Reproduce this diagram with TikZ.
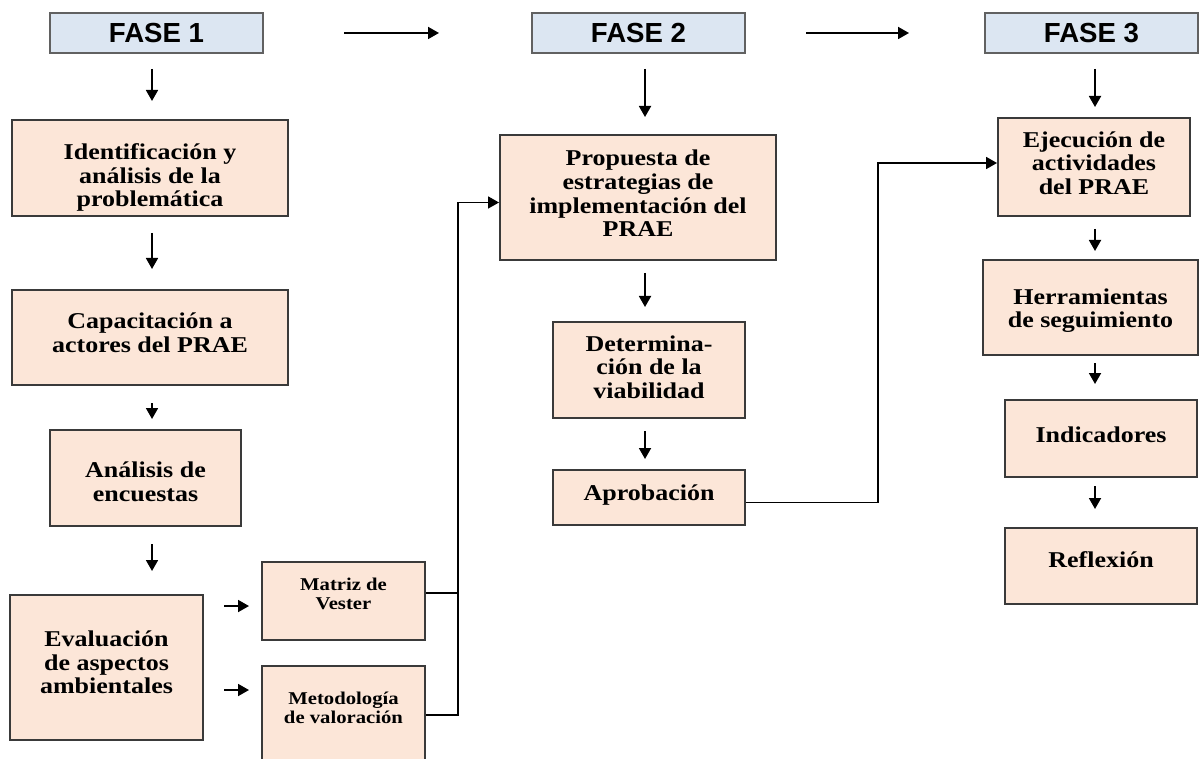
\documentclass[tikz,border=0pt]{standalone}
\usepackage{fontspec}
\setmainfont{Liberation Serif}[FakeStretch=1.15]
\newfontfamily\hdrfont{Liberation Sans}
\usetikzlibrary{arrows.meta}
\definecolor{peach}{HTML}{FCE6D8}
\definecolor{hdrblue}{HTML}{DCE6F2}
\definecolor{edge}{HTML}{3A3A3A}
\newcommand\upby[1]{\rule[-#1]{0pt}{#1}}
\newcommand\dnto[1]{\rule{0pt}{#1}}
\tikzset{
  box/.style={draw=edge, line width=1pt, fill=peach, align=center, inner sep=2pt,
    font=\bfseries\fontsize{11.3}{11.8}\selectfont, text=black},
  smallbox/.style={box, font=\bfseries\fontsize{9}{9.3}\selectfont},
  hdr/.style={draw=edge!80, line width=1pt, fill=hdrblue, minimum width=106.5pt, minimum height=20pt,
    font=\hdrfont\bfseries\fontsize{13.8}{15}\selectfont},
  arr/.style={line width=0.9pt, -{Triangle[length=5.5pt,width=6pt]}},
  conn/.style={line width=0.9pt}
}
\begin{document}
\begin{tikzpicture}[x=0.5pt,y=-0.5pt]
\useasboundingbox (0,0) rectangle (1199,759);
% headers
\node[hdr] (f1) at (156.5,33) {FASE 1};
\node[hdr] (f2) at (638.5,33) {FASE 2};
\node[hdr] (f3) at (1091.5,33) {FASE 3};
% phase 1
\node[box, minimum width=138pt, minimum height=48pt] (b1) at (150,168) {\dnto{17.5pt}Identificación y\\análisis de la\\problemática};
\node[box, minimum width=138pt, minimum height=47.5pt] (b2) at (150,337.5) {Capacitación a\\actores del PRAE\upby{5pt}};
\node[box, minimum width=95.5pt, minimum height=48pt] (b3) at (145.5,478) {\dnto{11.5pt}Análisis de\\encuestas};
\node[box, minimum width=96.5pt, minimum height=72.5pt] (b4) at (106.5,667.5) {Evaluación\\de aspectos\\ambientales\upby{5pt}};
\node[smallbox, minimum width=81.5pt, minimum height=39pt] (mat) at (343.5,601) {Matriz de\\Vester\upby{7pt}};
\node[smallbox, minimum width=81.5pt, minimum height=49pt] (met) at (343.5,715) {Metodología\\de valoración\upby{7pt}};
% phase 2
\node[box, minimum width=138pt, minimum height=62.5pt] (prop) at (638,197.5) {Propuesta de\\estrategias de\\implementación del\\PRAE\upby{4pt}};
\node[box, minimum width=96pt, minimum height=48pt] (det) at (649,370) {Determina-\\ción de la\\viabilidad\upby{3pt}};
\node[box, minimum width=96pt, minimum height=27.5pt] (apr) at (649,497.5) {Aprobación\upby{5pt}};
% phase 3
\node[box, minimum width=96pt, minimum height=49pt] (eje) at (1094,167) {Ejecución de\\actividades\\del PRAE\upby{4pt}};
\node[box, minimum width=107.5pt, minimum height=47.5pt] (her) at (1090.5,307.5) {\dnto{11pt}Herramientas\\de seguimiento};
\node[box, minimum width=96pt, minimum height=38.5pt] (ind) at (1101,438.5) {Indicadores\upby{4pt}};
\node[box, minimum width=96pt, minimum height=38pt] (ref) at (1101,566) {Reflexión\upby{6pt}};
% column guides
\coordinate (c1) at (152,0);
\coordinate (c2) at (645,0);
\coordinate (c3) at (1095,0);
\coordinate (jx) at (458,0);
\coordinate (kx) at (878,0);
\coordinate (y606) at (0,606);
\coordinate (y690) at (0,690);
% header arrows
\draw[arr, shorten <=40pt, shorten >=46pt] (f1.east) -- (f2.west);
\draw[arr, shorten <=30pt, shorten >=37.5pt] (f2.east) -- (f3.west);
% phase 1 arrows
\draw[arr, shorten <=7.5pt, shorten >=9pt] (c1 |- f1.south) -- (c1 |- b1.north);
\draw[arr, shorten <=8pt, shorten >=10pt] (c1 |- b1.south) -- (c1 |- b2.north);
\draw[arr, shorten <=8.5pt, shorten >=5pt] (c1 |- b2.south) -- (c1 |- b3.north);
\draw[arr, shorten <=8.5pt, shorten >=11.5pt] (c1 |- b3.south) -- (c1 |- b4.north);
\draw[arr, shorten <=10pt, shorten >=6pt] (b4.east |- y606) -- (mat.west |- y606);
\draw[arr, shorten <=10pt, shorten >=6pt] (b4.east |- y690) -- (met.west |- y690);
\draw[conn] ([yshift=4pt]mat.east) -- ([yshift=4pt]mat.east -| jx);
\draw[arr] (met.east) -- (met.east -| jx) -- ([yshift=-2.5pt]prop.west -| jx) -- ([yshift=-2.5pt]prop.west);
% phase 2 arrows
\draw[arr, shorten <=7.5pt, shorten >=8.5pt] (c2 |- f2.south) -- (c2 |- prop.north);
\draw[arr, shorten <=6pt, shorten >=7pt] (c2 |- prop.south) -- (c2 |- det.north);
\draw[arr, shorten <=6pt, shorten >=5pt] (c2 |- det.south) -- (c2 |- apr.north);
\draw[arr] ([yshift=-2.5pt]apr.east) -- ([yshift=-2.5pt]apr.east -| kx) -- ([yshift=2pt]eje.west -| kx) -- ([yshift=2pt]eje.west);
% phase 3 arrows
\draw[arr, shorten <=7.5pt, shorten >=5pt] (c3 |- f3.south) -- (c3 |- eje.north);
\draw[arr, shorten <=6pt, shorten >=4pt] (c3 |- eje.south) -- (c3 |- her.north);
\draw[arr, shorten <=3.5pt, shorten >=7.5pt] (c3 |- her.south) -- (c3 |- ind.north);
\draw[arr, shorten <=4pt, shorten >=9pt] (c3 |- ind.south) -- (c3 |- ref.north);
\end{tikzpicture}
\end{document}
